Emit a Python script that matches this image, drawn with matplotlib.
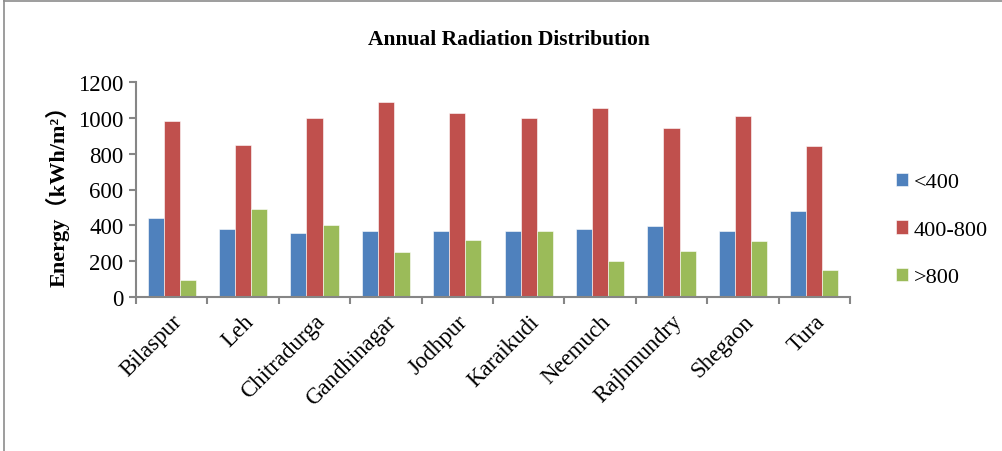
import matplotlib
matplotlib.use("Agg")
import matplotlib.pyplot as plt
import numpy as np

categories = ["Bilaspur", "Leh", "Chitradurga", "Gandhinagar", "Jodhpur",
              "Karaikudi", "Neemuch", "Rajhmundry", "Shegaon", "Tura"]
below_400 = [442, 379, 355, 370, 366, 370, 377, 394, 368, 478]
mid_400_800 = [982, 851, 998, 1090, 1026, 998, 1054, 946, 1010, 842]
above_800 = [93, 493, 401, 250, 315, 370, 198, 254, 310, 151]
series_names = ["<400", "400-800", ">800"]
colors = ["#4F81BD", "#C0504D", "#9BBB59"]
yticks = [0, 200, 400, 600, 800, 1000, 1200]

W, H = 1003, 452
fig = plt.figure(figsize=(W / 100, H / 100), dpi=100)
serif = ["Liberation Serif", "DejaVu Serif"]

# outer frame lines (top and left)
fig.add_artist(plt.Line2D([4 / W, 4 / W], [0, 1 - 1 / H], transform=fig.transFigure,
                          color="#8c8c8c", lw=1.2))
fig.add_artist(plt.Line2D([4 / W, 1], [1 - 1.5 / H, 1 - 1.5 / H], transform=fig.transFigure,
                          color="#8c8c8c", lw=1.2))

left, right = 136, 850
top, bottom = 83.3, 297.7
ax = fig.add_axes([left / W, 1 - bottom / H, (right - left) / W, (bottom - top) / H])

x = np.arange(len(categories))
bw = 0.225
for i, (vals, name, c) in enumerate(zip([below_400, mid_400_800, above_800], series_names, colors)):
    ax.bar(x + (i - 1) * bw, vals, width=bw, color=c, label=name,
           edgecolor="white", linewidth=0.4)

ax.set_xlim(-0.5, len(categories) - 0.5)
ax.set_ylim(0, 1200)
ax.set_yticks(yticks)
ax.set_yticklabels([str(v) for v in yticks], fontfamily=serif, fontsize=16.5)
ax.set_xticks(np.arange(len(categories) + 1) - 0.5)
ax.set_xticklabels([])
ax.set_xticks(x, minor=True)
ax.set_xticklabels(categories, minor=True, rotation=45, ha="right", va="top",
                   rotation_mode="anchor", fontfamily=serif, fontsize=16.5)
ax.tick_params(axis="x", which="minor", length=0, pad=10)
ax.tick_params(axis="x", which="major", length=5, color="#868686", width=1.5, direction="out")
ax.tick_params(axis="y", length=5, color="#868686", width=1.5, direction="out", pad=4)

for s in ["top", "right"]:
    ax.spines[s].set_visible(False)
for s in ["left", "bottom"]:
    ax.spines[s].set_color("#868686")
    ax.spines[s].set_linewidth(1.5)

ax.set_ylabel("Energy（kWh/m²）", fontfamily=["Liberation Serif", "Noto Sans CJK SC"],
              fontweight="bold", fontsize=16, labelpad=6)

fig.text(509 / W, 1 - 40 / H, "Annual Radiation Distribution", ha="center", va="center",
         fontfamily=serif, fontweight="bold", fontsize=15.5)

leg = ax.legend(loc="center left", bbox_to_anchor=(876 / W, 1 - 231 / H),
                bbox_transform=fig.transFigure, frameon=False,
                prop={"family": serif, "size": 16}, handlelength=0.55, handleheight=0.55,
                handletextpad=0.25, labelspacing=1.25)

fig.savefig("out.png", dpi=100, facecolor="white")
